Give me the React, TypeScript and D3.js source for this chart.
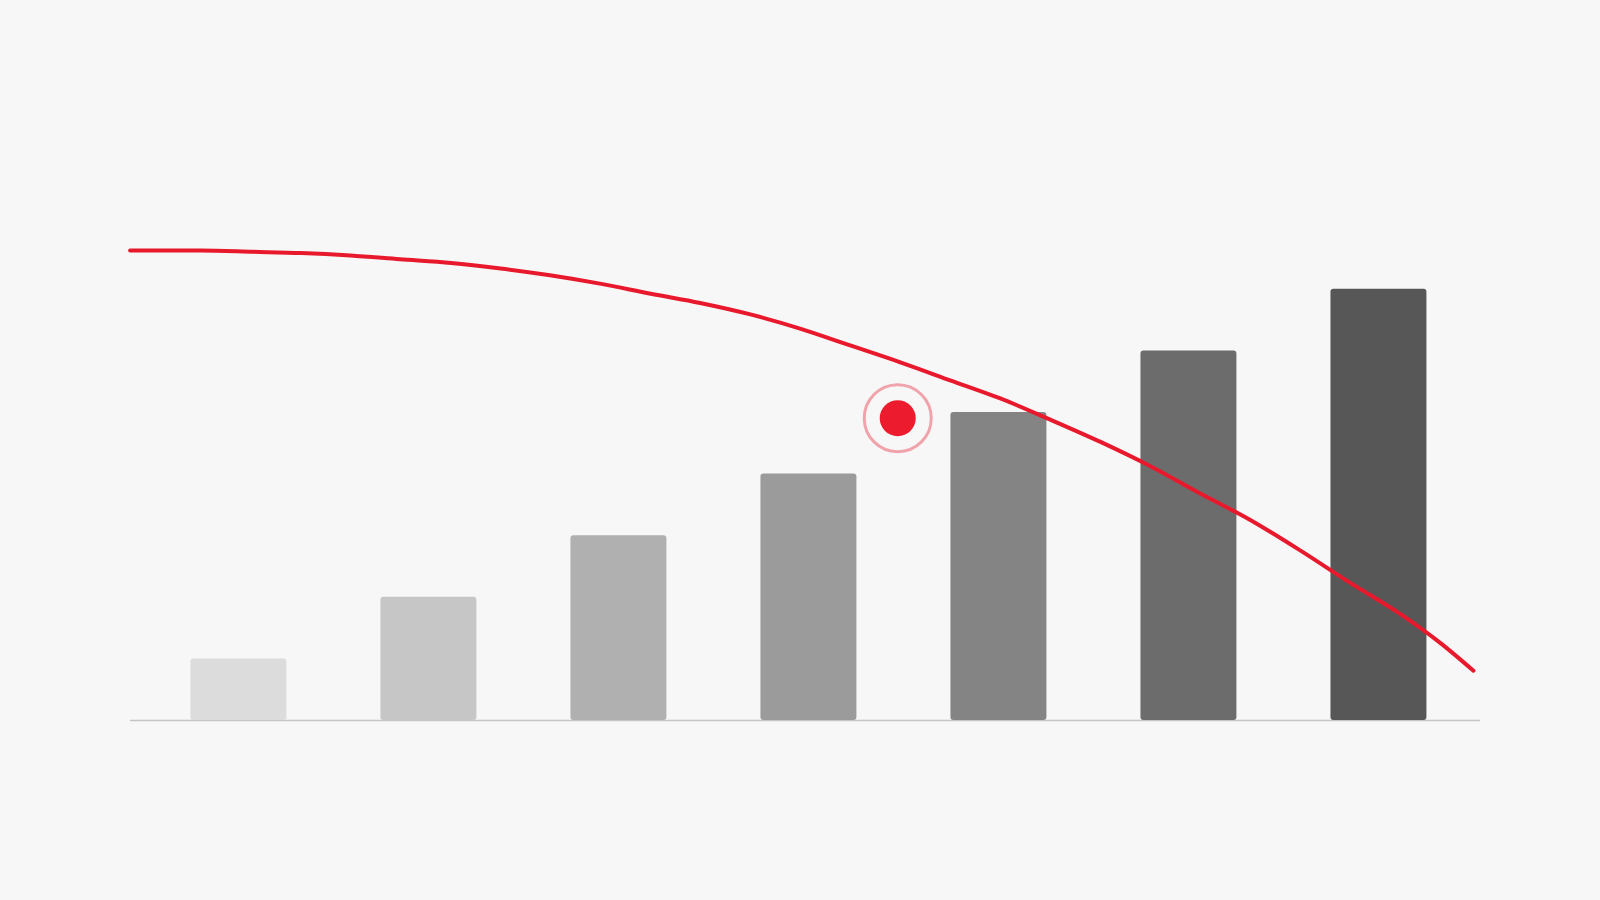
import * as d3 from "d3";
import { useEffect, useRef } from "react";

// bar categories and values
const categories = ["A", "B", "C", "D", "E", "F", "G"];
const barValues = [1, 2, 3, 4, 5, 6, 7];
const barColors = ["#dcdcdc", "#c6c6c6", "#b0b0b0", "#9b9b9b", "#848484", "#6c6c6c", "#575757"];

// red curve, x in category index units, y in bar units
const linePos = [
  -0.57, -0.2, 0.08, 0.33, 0.59, 0.85, 1.12, 1.38, 1.64, 1.91, 2.17, 2.43, 2.7, 2.96,
  3.22, 3.48, 3.75, 4.01, 4.27, 4.54, 4.8, 5.06, 5.33, 5.59, 5.85, 6.12, 6.33, 6.5,
];
const lineValues = [
  7.62, 7.62, 7.6, 7.58, 7.54, 7.48, 7.42, 7.33, 7.22, 7.08, 6.92, 6.77, 6.58, 6.35,
  6.08, 5.81, 5.51, 5.22, 4.88, 4.51, 4.12, 3.68, 3.24, 2.75, 2.23, 1.71, 1.24, 0.8,
];

// highlighted marker
const markerPos = 3.47;
const markerValue = 4.9;

export default function App() {
  const svgRef = useRef<SVGSVGElement>(null);

  useEffect(() => {
    if (!svgRef.current) return;
    const svg = d3.select(svgRef.current);
    svg.selectAll("*").remove();

    const width = 1600,
      height = 900;
    const left = 130,
      right = 1480,
      baseline = 720;

    svg.append("rect").attr("width", width).attr("height", height).attr("fill", "#f7f7f7");

    const xScale = d3
      .scaleBand()
      .domain(categories)
      .range([left, right])
      .paddingInner(0.495)
      .paddingOuter(0.3)
      .align(0.53);

    const yScale = d3.scaleLinear().domain([0, 10]).range([baseline, baseline - 616]);

    // index units -> centre of band
    const c0 = (xScale(categories[0]) as number) + xScale.bandwidth() / 2;
    const c6 = (xScale(categories[6]) as number) + xScale.bandwidth() / 2;
    const xIdx = d3.scaleLinear().domain([0, 6]).range([c0, c6]);

    // baseline axis
    svg
      .append("line")
      .attr("x1", left)
      .attr("x2", right)
      .attr("y1", baseline + 0.5)
      .attr("y2", baseline + 0.5)
      .attr("stroke", "#c4c4c4")
      .attr("stroke-width", 1.5);

    // bars
    svg
      .append("g")
      .selectAll("rect")
      .data(barValues)
      .enter()
      .append("rect")
      .attr("x", (d, i) => xScale(categories[i]) as number)
      .attr("y", (d) => yScale(d))
      .attr("width", xScale.bandwidth())
      .attr("height", (d) => yScale(0) - yScale(d))
      .attr("rx", 3)
      .attr("fill", (d, i) => barColors[i]);

    // curve
    const pts: [number, number][] = linePos.map((p, i) => [xIdx(p), yScale(lineValues[i])]);
    svg
      .append("path")
      .attr("d", d3.line().curve(d3.curveMonotoneX)(pts) as string)
      .attr("fill", "none")
      .attr("stroke", "#e8192c")
      .attr("stroke-width", 4)
      .attr("stroke-linecap", "round")
      .attr("stroke-linejoin", "round");

    // marker
    const mx = xIdx(markerPos),
      my = yScale(markerValue);
    svg
      .append("circle")
      .attr("cx", mx)
      .attr("cy", my)
      .attr("r", 33.5)
      .attr("fill", "none")
      .attr("stroke", "#f0a3ab")
      .attr("stroke-width", 3);
    svg
      .append("circle")
      .attr("cx", mx)
      .attr("cy", my)
      .attr("r", 18)
      .attr("fill", "#ec1b2e");
  }, []);

  return (
    <svg
      ref={svgRef}
      width={1600}
      height={900}
      style={{ position: "fixed", left: 0, top: 0, display: "block" }}
    />
  );
}
